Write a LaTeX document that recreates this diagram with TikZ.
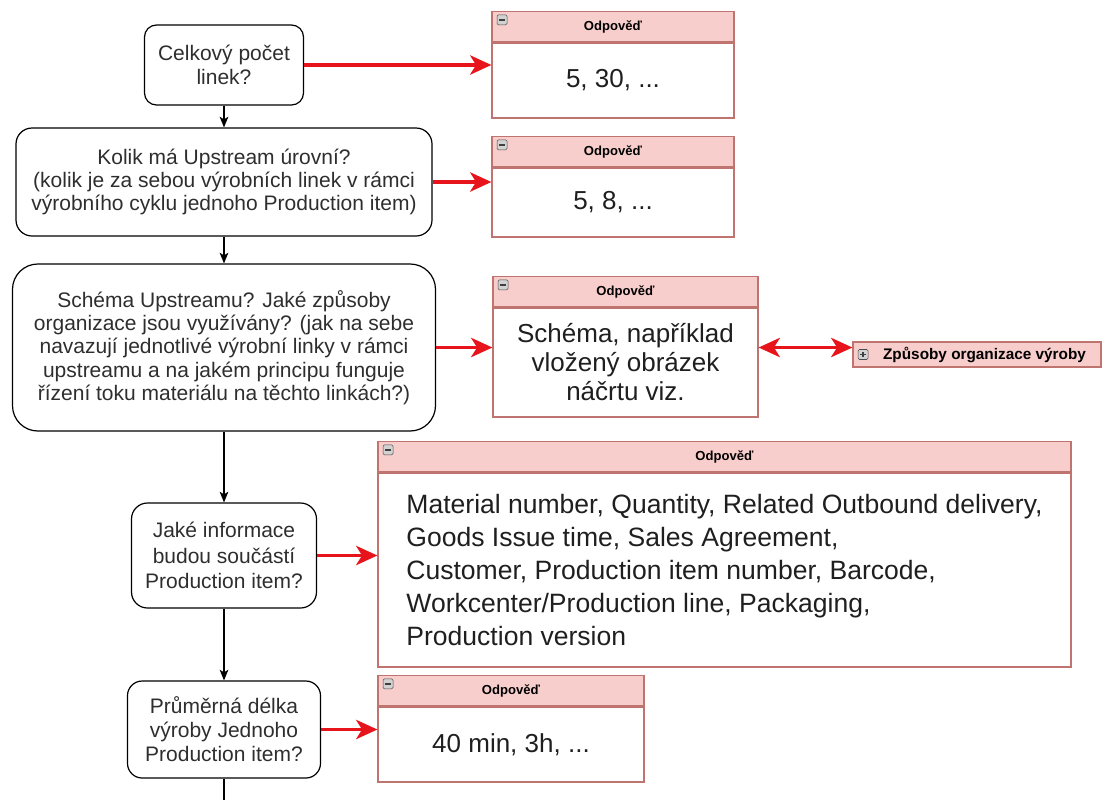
\documentclass[tikz,border=0pt]{standalone}
\usepackage{fontspec}
\setmainfont{Liberation Sans}
\usetikzlibrary{arrows.meta,positioning}
\definecolor{hdrfill}{HTML}{F8CECC}
\definecolor{hdrline}{HTML}{C07470}
\definecolor{arrred}{HTML}{E8141B}

\begin{document}
\begin{tikzpicture}[
    x=0.75pt, y=-0.75pt,
    q/.style={rectangle,draw,line width=0.9pt,rounded corners=11pt,align=center,inner sep=2pt,text=black!82,font=\fontsize{15.75}{17.5}\selectfont},
    ans/.style={rectangle,draw=hdrline,fill=white,line width=0.9pt,align=center,inner sep=2pt,text=black!88,font=\fontsize{19.5}{22}\selectfont},
    hdr/.style={rectangle,draw=hdrline,fill=hdrfill,line width=0.9pt,minimum height=22.5pt,inner sep=0pt,font=\bfseries\fontsize{9.8}{11}\selectfont},
    tog/.style={rectangle,draw=gray!60!black,fill=gray!35,rounded corners=1pt,minimum size=7.5pt,inner sep=0pt,line width=0.4pt,
      path picture={\draw[line width=1pt,black!75] ([xshift=-2.2pt]path picture bounding box.center) -- ([xshift=2.2pt]path picture bounding box.center);}},
    togplus/.style={tog,
      path picture={\draw[line width=1pt,black!75] ([xshift=-2.2pt]path picture bounding box.center) -- ([xshift=2.2pt]path picture bounding box.center)
        ([yshift=-2.2pt]path picture bounding box.center) -- ([yshift=2.2pt]path picture bounding box.center);}},
    flow/.style={-{Stealth[length=8pt,width=6.5pt,inset=2pt]},line width=0.8pt},
    link/.style={-{Stealth[length=16pt,width=14.5pt,inset=4.5pt]},draw=arrred,line width=2.4pt}]
    \useasboundingbox (0,0) rectangle (1112,800);

    % questions
    \node[q,minimum width=119.25pt,minimum height=60pt,rounded corners=9pt] (q1) at (224,65) {Celkový počet\\linek?};
    \node[q,minimum width=312pt,minimum height=81pt,rounded corners=12pt] (q2) at (224,182) {Kolik má Upstream úrovní?\\(kolik je za sebou výrobních linek v rámci\\výrobního cyklu jednoho Production item)};
    \node[q,minimum width=317.25pt,minimum height=125.25pt,rounded corners=19pt] (q3) at (224,347.5) {Schéma Upstreamu? Jaké způsoby\\organizace jsou využívány? (jak na sebe\\navazují jednotlivé výrobní linky v rámci\\upstreamu a na jakém principu funguje\\řízení toku materiálu na těchto linkách?)};
    \node[q,minimum width=138.75pt,minimum height=78.75pt,rounded corners=12pt,font=\fontsize{15.75}{19}\selectfont] (q4) at (224,555.5) {Jaké informace\\budou součástí\\Production item?};
    \node[q,minimum width=144.75pt,minimum height=72.75pt,font=\fontsize{15.75}{18}\selectfont] (q5) at (224,729.5) {Průměrná délka\\výroby Jednoho\\Production item?};
    \coordinate (end) at (224,800);

    % answers
    \node[ans,minimum width=181.5pt,minimum height=56.25pt] (a1) at (613,80.5) {5, 30, ...};
    \node[hdr,minimum width=181.5pt,above=0pt of a1] (a1h) {Odpověď};
    \node[ans,minimum width=181.5pt,minimum height=51.75pt] (a2) at (613,202.5) {5, 8, ...};
    \node[hdr,minimum width=181.5pt,above=0pt of a2] (a2h) {Odpověď};
    \node[ans,minimum width=198.75pt,minimum height=81.75pt,font=\fontsize{19.5}{21.75}\selectfont] (a3) at (625.5,362.5) {Schéma, například\\vložený obrázek\\náčrtu viz.};
    \node[hdr,minimum width=198.75pt,above=0pt of a3] (a3h) {Odpověď};
    \node[ans,minimum width=519.75pt,minimum height=145.5pt,align=left,font=\fontsize{19.9}{24.75}\selectfont] (a4) at (724.5,570) {Material number, Quantity, Related Outbound delivery,\\Goods Issue time, Sales Agreement,\\Customer, Production item number, Barcode,\\Workcenter/Production line, Packaging,\\Production version};
    \node[hdr,minimum width=519.75pt,above=0pt of a4] (a4h) {Odpověď};
    \node[ans,minimum width=199.5pt,minimum height=56.25pt] (a5) at (511,744.5) {40 min, 3h, ...};
    \node[hdr,minimum width=199.5pt,above=0pt of a5] (a5h) {Odpověď};

    \node[tog] (a1t) at ([xshift=8pt,yshift=-6.5pt]a1h.north west) {};
    \node[tog] (a2t) at ([xshift=8pt,yshift=-6.5pt]a2h.north west) {};
    \node[tog] (a3t) at ([xshift=8pt,yshift=-6.5pt]a3h.north west) {};
    \node[tog] (a4t) at ([xshift=8pt,yshift=-6.5pt]a4h.north west) {};
    \node[tog] (a5t) at ([xshift=8pt,yshift=-6.5pt]a5h.north west) {};

    \node[hdr,minimum width=186pt,minimum height=18.75pt,font=\bfseries\fontsize{11.5}{13}\selectfont] (zp) at (977,354.5) {\hspace*{11.25pt}Způsoby organizace výroby};
    \node[togplus] (zpt) at ([xshift=8pt]zp.west) {};

    % flow
    \draw[flow] (q1) -- (q2);
    \draw[flow] (q2) -- (q3);
    \draw[flow] (q3) -- (q4);
    \draw[flow] (q4) -- (q5);
    \draw[line width=0.8pt] (q5) -- (end);

    \draw[link] (q1.east) -- (q1.east -| a1.west);
    \draw[link] (q2.east) -- (q2.east -| a2.west);
    \draw[link] (q3.east) -- (q3.east -| a3.west);
    \draw[link] (q4.east) -- (q4.east -| a4.west);
    \draw[link] (q5.east) -- (q5.east -| a5.west);
    \draw[link,{Stealth[length=16pt,width=14.5pt,inset=4.5pt]}-{Stealth[length=16pt,width=14.5pt,inset=4.5pt]}] (a3.east |- q3.east) -- (zp.west |- q3.east);
\end{tikzpicture}
\end{document}
